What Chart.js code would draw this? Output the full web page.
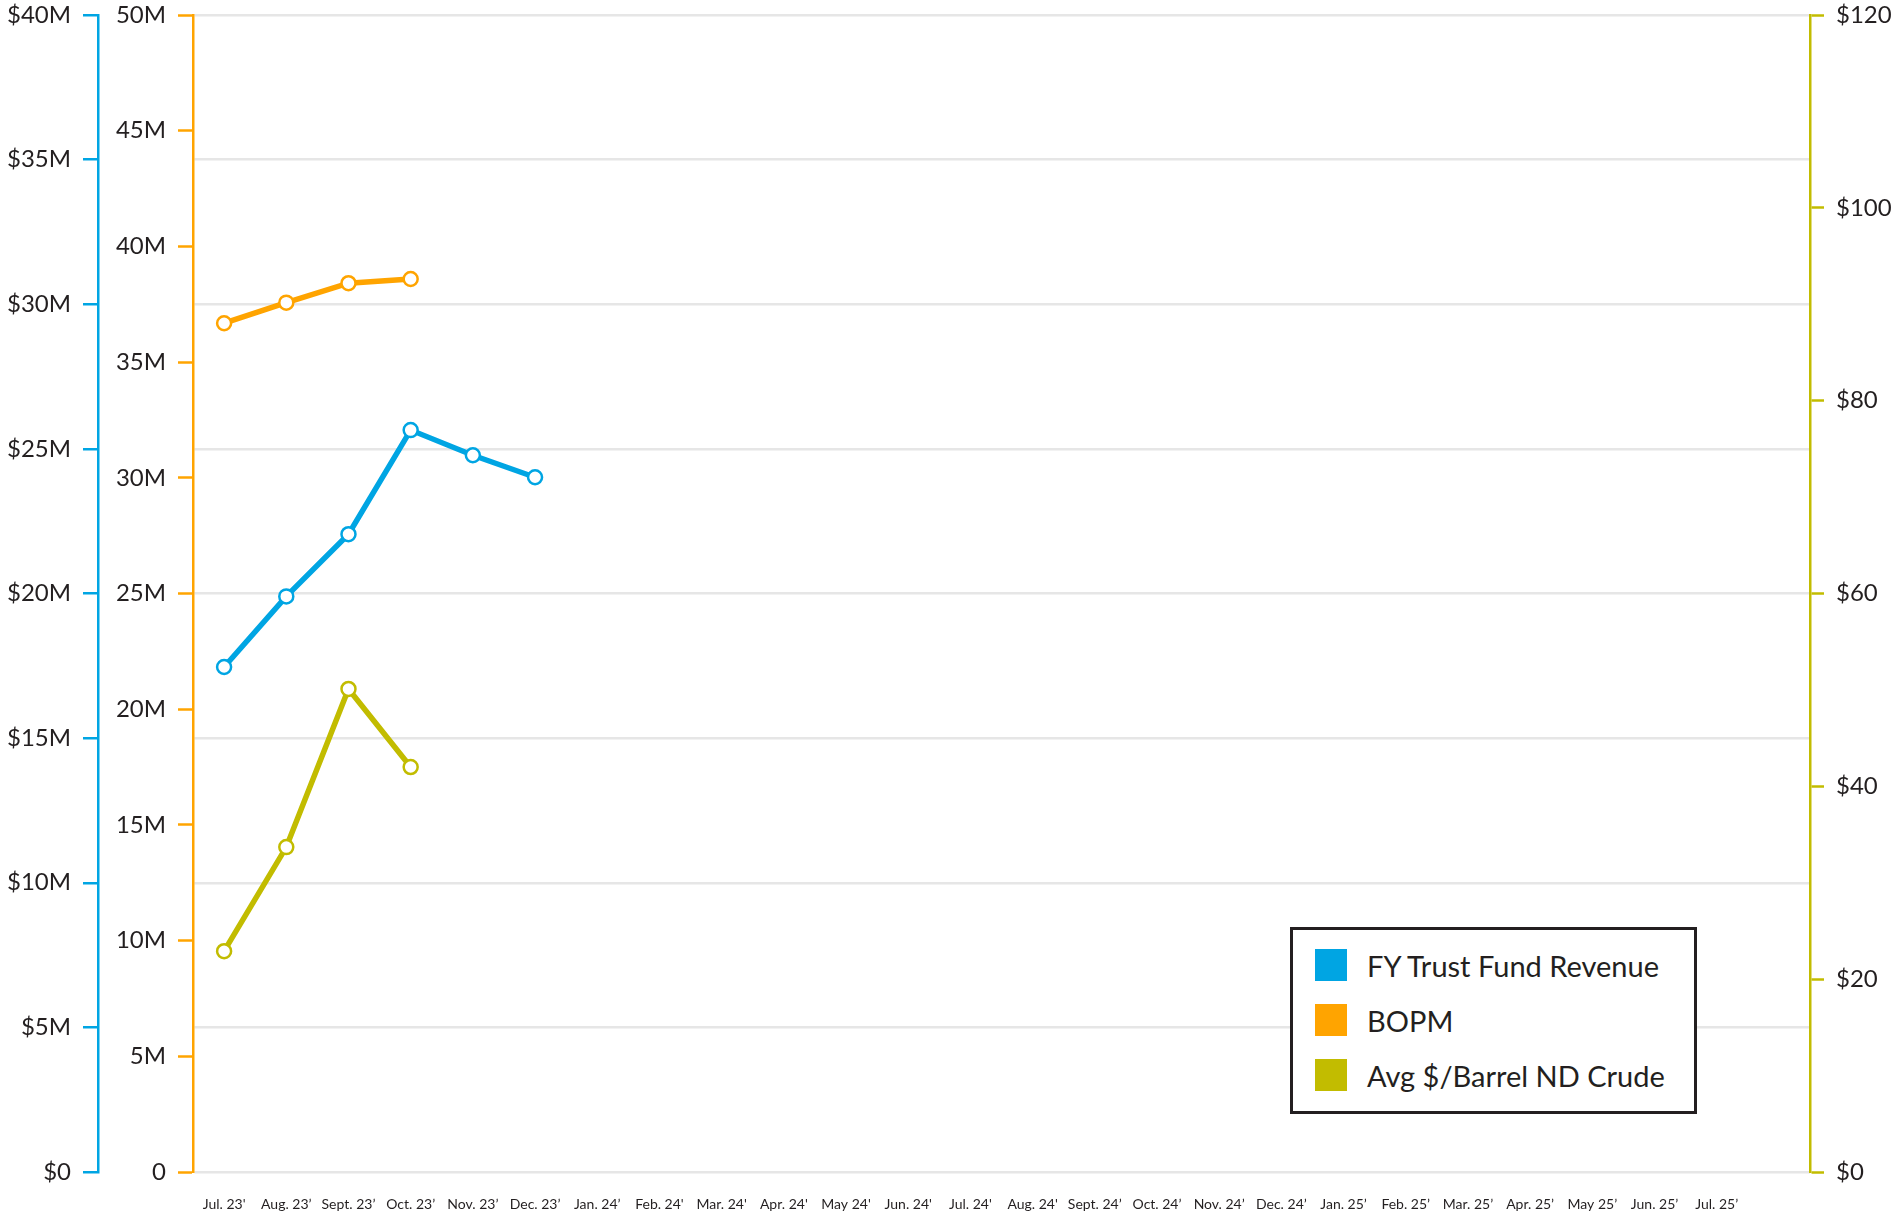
<!DOCTYPE html>
<html>
<head>
<meta charset="utf-8">
<script src="https://cdn.jsdelivr.net/npm/chart.js@4.4.1/dist/chart.umd.min.js"></script>
<style>
    body { margin: 0; background: #fff; }
    #wrap { position: relative; width: 1895px; height: 1213px; }
    #legend {
        position: absolute; left: 1290px; top: 927px; width: 407px; height: 187px;
        box-sizing: border-box; border: 3px solid #231f20; background: #fff;
        font-family: Lato, sans-serif; font-size: 29px; color: #231f20;
        padding-top: 19px; padding-left: 22px;
    }
    .row { display: flex; align-items: center; height: 32px; margin-bottom: 23px; }
    .swatch { width: 32px; height: 32px; margin-right: 20px; }
</style>
</head>
<body>
<div id="wrap">
    <canvas id="chart" width="1895" height="1213"></canvas>
    <div id="legend"></div>
</div>
<script>
// Categories (last one left blank as spacer)
const months = ["Jul. 23'", "Aug. 23’", "Sept. 23’", "Oct. 23’", "Nov. 23’", "Dec. 23’", "Jan. 24’",
    "Feb. 24'", "Mar. 24'", "Apr. 24'", "May 24'", "Jun. 24'", "Jul. 24'", "Aug. 24'",
    "Sept. 24’", "Oct. 24’", "Nov. 24’", "Dec. 24’", "Jan. 25’", "Feb. 25’", "Mar. 25’",
    "Apr. 25’", "May 25’", "Jun. 25’", "Jul. 25’", ""];

// Series values
const trustFund = [17.46e6, 19.9e6, 22.05e6, 25.65e6, 24.78e6, 24.02e6]; // $ (left axis)
const bopm = [36.68e6, 37.57e6, 38.41e6, 38.59e6];                        // barrels (middle axis)
const crudePrice = [22.9, 33.7, 50.1, 42.0];                              // $/barrel (right axis)

const seriesNames = ['FY Trust Fund Revenue', 'BOPM', 'Avg $/Barrel ND Crude'];

const BLUE = '#00a5e3';
const ORANGE = '#ffa400';
const OLIVE = '#c2bc00';
const TEXT = '#231f20';
const GRID = '#e6e6e6';

const tickFont = { family: 'Lato, sans-serif', size: 24 };

function lineSet(label, data, color, axis) {
    return {
        label: label,
        data: data,
        yAxisID: axis,
        borderColor: color,
        backgroundColor: color,
        borderWidth: 5.5,
        tension: 0,
        pointRadius: 7,
        pointBorderWidth: 2.5,
        pointBackgroundColor: '#fff',
        pointBorderColor: color
    };
}

// fix the width of a y axis and drop its label overhang so the plot starts at the top
function fitY(width) {
    return s => {
        s.width = width;
        s.paddingTop = 0;
        s.paddingBottom = 0;
    };
}

const chart = new Chart(document.getElementById('chart'), {
    type: 'line',
    data: {
        labels: months,
        datasets: [
            lineSet(seriesNames[0], trustFund, BLUE, 'yRev'),
            lineSet(seriesNames[1], bopm, ORANGE, 'yBopm'),
            lineSet(seriesNames[2], crudePrice, OLIVE, 'yPrice')
        ]
    },
    options: {
        responsive: false,
        animation: false,
        layout: { padding: { top: 15 } },
        plugins: { legend: { display: false }, tooltip: { enabled: false } },
        scales: {
            x: {
                offset: true,
                grid: { display: false },
                border: { display: false },
                ticks: { color: TEXT, font: { family: "'Liberation Sans Narrow', Lato, sans-serif", size: 14 }, padding: 16, maxRotation: 0, autoSkip: false },
                afterFit: s => { s.height = 41; s.paddingLeft = 0; s.paddingRight = 0; }
            },
            yBopm: {
                position: 'left',
                weight: 0,
                min: 0, max: 50e6,
                grid: { drawOnChartArea: false, tickColor: ORANGE, tickLength: 15, tickWidth: 2.5 },
                border: { color: ORANGE, width: 2.5 },
                ticks: { stepSize: 5e6, color: TEXT, font: tickFont, padding: 12,
                    callback: v => v === 0 ? '0' : (v / 1e6) + 'M' },
                afterFit: fitY(95)
            },
            yRev: {
                position: 'left',
                weight: 1,
                min: 0, max: 40e6,
                grid: { color: GRID, lineWidth: 2.5, tickColor: BLUE, tickLength: 15, tickWidth: 2.5 },
                border: { color: BLUE, width: 2.5 },
                ticks: { stepSize: 5e6, color: TEXT, font: tickFont, padding: 12,
                    callback: v => v === 0 ? '$0' : '$' + (v / 1e6) + 'M' },
                afterFit: fitY(98)
            },
            yPrice: {
                position: 'right',
                min: 0, max: 120,
                grid: { drawOnChartArea: false, tickColor: OLIVE, tickLength: 14, tickWidth: 2.5 },
                border: { color: OLIVE, width: 2.5 },
                ticks: { stepSize: 20, color: TEXT, font: tickFont, padding: 12,
                    callback: v => '$' + v },
                afterFit: fitY(85)
            }
        }
    }
});

// HTML legend built from the datasets
const legendEl = document.getElementById('legend');
chart.data.datasets.forEach(ds => {
    const row = document.createElement('div');
    row.className = 'row';
    const sw = document.createElement('span');
    sw.className = 'swatch';
    sw.style.background = ds.borderColor;
    const txt = document.createElement('span');
    txt.textContent = ds.label;
    row.appendChild(sw);
    row.appendChild(txt);
    legendEl.appendChild(row);
});
</script>
</body>
</html>
